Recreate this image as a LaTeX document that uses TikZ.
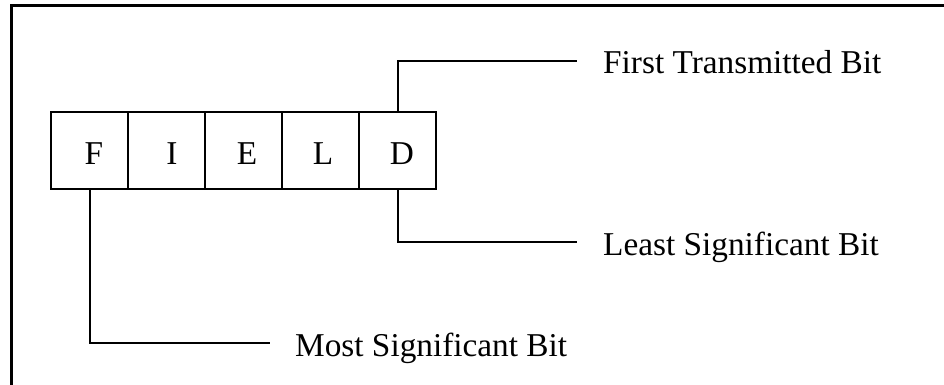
\documentclass[tikz,border=0pt]{standalone}
\usepackage{fontspec}
\setmainfont{Liberation Serif}
\begin{document}
\begin{tikzpicture}[x=1pt,y=-1pt,
  cell/.style={draw,line width=2pt,minimum width=77pt,minimum height=77pt,inner sep=0pt,outer sep=0pt},
  lead/.style={line width=2pt},
  lbl/.style={inner sep=0pt,anchor=base west,font=\fontsize{33.3}{38}\selectfont},
  letter/.style={font=\fontsize{33.3}{38}\selectfont,inner sep=0pt}]
\useasboundingbox (0,0) rectangle (944,385);
\draw[line width=3pt] (11,385) -- (11,6) -- (944,6);
\node[cell] (f) at (89.5,150.5) {};
\node[cell] (i) at (166.5,150.5) {};
\node[cell] (e) at (243.5,150.5) {};
\node[cell] (l) at (320.5,150.5) {};
\node[cell] (d) at (397.5,150.5) {};
\node[letter,anchor=base] (tf) at (94,164) {F};
\node[letter,anchor=base] (ti) at (172,164) {I};
\node[letter,anchor=base] (te) at (247,164) {E};
\node[letter,anchor=base] (tl) at (323,164) {L};
\node[letter,anchor=base] (td) at (402,164) {D};
\coordinate (c1) at (577,61);
\coordinate (c2) at (577,242);
\coordinate (c3) at (270,343);
\draw[lead] (d.north) |- (c1);
\draw[lead] (d.south) |- (c2);
\draw[lead] (f.south) |- (c3);
\node[lbl] (ftb) at (603,74) {First Transmitted Bit};
\node[lbl] (lsb) at (603,255) {Least Significant Bit};
\node[lbl] (msb) at (295,356) {Most Significant Bit};
\end{tikzpicture}
\end{document}
